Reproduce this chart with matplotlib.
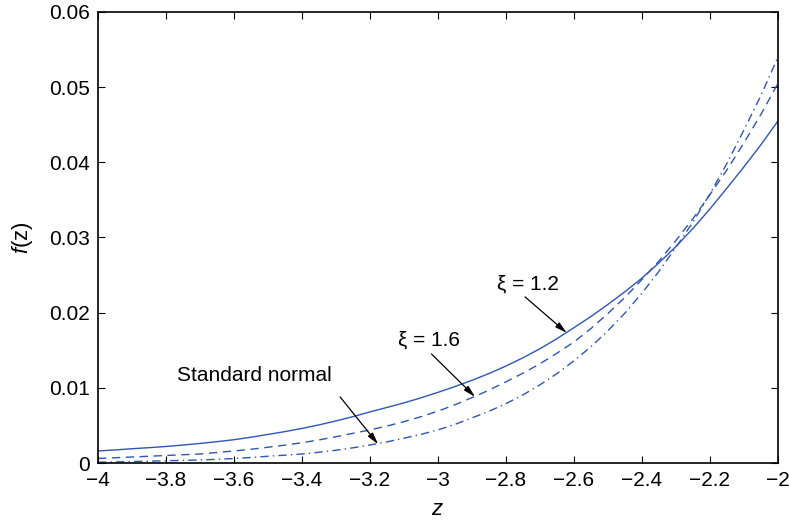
import matplotlib
matplotlib.use("Agg")
import matplotlib.pyplot as plt

plt.rcParams['font.family'] = ['Liberation Sans', 'DejaVu Sans']
plt.rcParams['mathtext.fontset'] = 'custom'
plt.rcParams['mathtext.it'] = 'Liberation Sans:italic'
plt.rcParams['mathtext.rm'] = 'Liberation Sans'

# values, z step 0.05
z = [-4.0, -3.95, -3.9, -3.85, -3.8, -3.75, -3.7, -3.65, -3.6, -3.55, -3.5,
     -3.45, -3.4, -3.35, -3.3, -3.25, -3.2, -3.15, -3.1, -3.05, -3.0,
     -2.95, -2.9, -2.85, -2.8, -2.75, -2.7, -2.65, -2.6, -2.55, -2.5,
     -2.45, -2.4, -2.35, -2.3, -2.25, -2.2, -2.15, -2.1, -2.05, -2.0]
f_xi12 = [0.0016, 0.00174, 0.0019, 0.00204, 0.0022, 0.00239, 0.0026, 0.00284, 0.0031, 0.00343, 0.0038,
          0.00418, 0.0046, 0.00507, 0.0056, 0.00617, 0.0068, 0.00739, 0.0080, 0.00867, 0.0094,
          0.01017, 0.0110, 0.0119, 0.0129, 0.0140, 0.0152, 0.01654, 0.0180, 0.01949, 0.0211,
          0.02279, 0.0246, 0.02662, 0.0288, 0.0312, 0.0338, 0.03657, 0.0394, 0.04234, 0.0455]
f_xi16 = [0.0006, 0.0007, 0.0008, 0.0009, 0.0010, 0.0011, 0.0012, 0.0014, 0.0016, 0.00183, 0.0021,
          0.00238, 0.0027, 0.00307, 0.0035, 0.00395, 0.0044, 0.00492, 0.0055, 0.00616, 0.0069,
          0.00775, 0.0087, 0.00969, 0.0108, 0.01195, 0.0132, 0.01461, 0.0161, 0.01789, 0.0199,
          0.02203, 0.0244, 0.02688, 0.0296, 0.0325, 0.0357, 0.0390, 0.0426, 0.04638, 0.0505]
f_norm = [0.0001, 0.00014, 0.0002, 0.00024, 0.0003, 0.00035, 0.0004, 0.00049, 0.0006, 0.00073, 0.0009,
          0.00104, 0.0012, 0.00143, 0.0017, 0.00202, 0.0024, 0.00281, 0.0033, 0.00381, 0.0044,
          0.00514, 0.0060, 0.00688, 0.0079, 0.00906, 0.0104, 0.01189, 0.0136, 0.01547, 0.0176,
          0.01995, 0.0226, 0.0255, 0.0287, 0.03205, 0.0358, 0.03987, 0.0443, 0.0489, 0.0540]

xticks = [-4, -3.8, -3.6, -3.4, -3.2, -3, -2.8, -2.6, -2.4, -2.2, -2]
yticks = [0, 0.01, 0.02, 0.03, 0.04, 0.05, 0.06]

blue = '#2f56b3'

fig = plt.figure(figsize=(7.89, 5.20), dpi=100)
ax = fig.add_axes([0.1242, 0.1096, 0.8618, 0.8674])

ax.plot(z, f_xi12, color=blue, lw=1.0)
ax.plot(z, f_xi16, color=blue, lw=1.0, dashes=(6, 4))
ax.plot(z, f_norm, color=blue, lw=1.0, dashes=(6, 3, 1, 3))

# -------------------
# labels with arrows
# -------------------
arrow = dict(arrowstyle='-|>,head_width=0.18,head_length=0.7', color='k', lw=0.9,
             shrinkA=0, shrinkB=0)
ax.text(-2.735, 0.0238, 'ξ = 1.2', fontsize=15, ha='center', va='center')
ax.annotate('', xy=(-2.621, 0.0173), xytext=(-2.744, 0.0221), arrowprops=arrow)
ax.text(-3.026, 0.0163, 'ξ = 1.6', fontsize=15, ha='center', va='center')
ax.annotate('', xy=(-2.891, 0.0088), xytext=(-3.019, 0.0145), arrowprops=arrow)
ax.text(-3.541, 0.0117, 'Standard normal', fontsize=15, ha='center', va='center')
ax.annotate('', xy=(-3.176, 0.0025), xytext=(-3.288, 0.0088), arrowprops=arrow)

ax.set_xlim(-4, -2)
ax.set_ylim(0, 0.06)
ax.set_xticks(xticks)
ax.set_xticklabels([f'{v:g}'.replace('-', '\u2212') for v in xticks])
ax.set_yticks(yticks)
ax.set_yticklabels([f'{v:g}' for v in yticks])
ax.tick_params(direction='in', length=5, width=0.8, top=True, right=True,
               labelsize=15, pad=6)
for s in ax.spines.values():
    s.set_linewidth(1.2)

ax.set_xlabel('$\\it{z}$', fontsize=16, labelpad=6)
ax.set_ylabel('$\\it{f}$(z)', fontsize=16, labelpad=10)

fig.savefig('out.png', dpi=100)
